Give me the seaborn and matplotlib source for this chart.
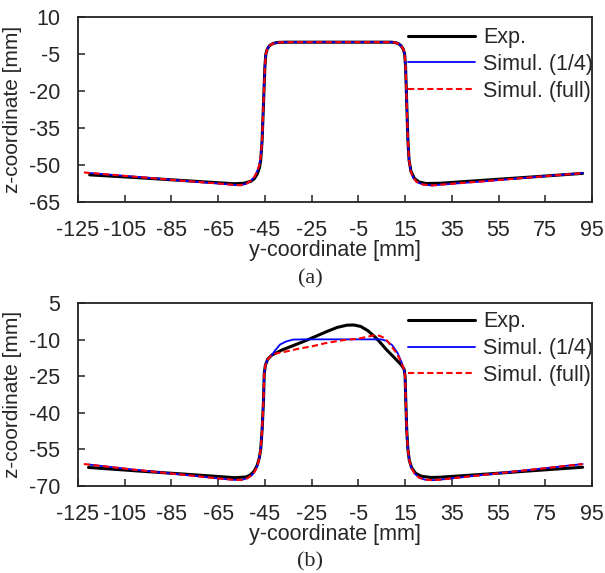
import numpy as np
import pandas as pd
import seaborn as sns
import matplotlib
matplotlib.use('Agg')
import matplotlib.pyplot as plt

# ---- panel (a) ----
exp_a_y = [-120, -100, -80, -65, -58, -54, -51, -49.5, -48.2, -47.3, -46.8, -46.2, -45.6, -45.0, -44.6,
           -44.0, -43.0, -41.5, -39.5, -36, -20, 0, 9, 11, 12.3, 13.3, 14.2, 14.8, 15.2, 15.7, 16.2,
           16.7, 17.5, 19, 21, 24, 30, 50, 70, 91]
exp_a_z = [-54.0, -55.1, -56.3, -57.2, -57.6, -57.4, -56.6, -55.5, -53.5, -51, -48, -40, -25, -10, -5,
           -3, -1.6, -0.7, -0.3, -0.2, -0.2, -0.2, -0.2, -0.4, -0.9, -1.7, -3, -5, -10, -25, -40,
           -48, -52.5, -55.5, -56.9, -57.5, -57.4, -56.1, -54.8, -53.4]

sim_a_y = [-120.5, -100, -80, -65, -58, -55.5, -53, -51, -49.5, -48.3, -47.4, -46.8, -46.2, -45.6, -45.0,
           -44.6, -44.0, -43.0, -41.5, -39.5, -36, -20, 0, 9, 11, 12.3, 13.3, 14.2, 14.8, 15.2, 15.7,
           16.2, 16.7, 17.4, 18.5, 20, 22.5, 26.5, 30, 50, 70, 91]
sim_a_z = [-53.2, -54.8, -56.4, -57.5, -58.1, -58.2, -57.6, -56.4, -54.8, -52.5, -50, -47, -40, -25, -10,
           -5, -3, -1.6, -0.7, -0.3, -0.2, -0.2, -0.2, -0.2, -0.4, -0.9, -1.7, -3, -5, -10, -25,
           -40, -48, -52.5, -55.2, -56.9, -57.9, -58.3, -58.0, -56.5, -54.9, -53.3]
full_a_y = [-122.5] + sim_a_y
full_a_z = [-53.0] + sim_a_z

# ---- panel (b) ----
exp_b_y = [-120.5, -100, -80, -65, -58, -53, -51, -49.5, -48.3, -47.4, -46.8, -46.2, -45.6, -45.3, -44.8,
           -43.8, -42, -40, -37.8, -33, -28, -23.6, -18, -14, -10, -7, -4, -1, 2, 4, 7, 10.5, 13.5,
           14.6, 15, 15.3, 15.7, 16.2, 16.8, 17.8, 19.5, 22, 26, 30, 50, 70, 91]
exp_b_z = [-62.4, -63.8, -65.1, -66.1, -66.6, -66.3, -65.3, -63.8, -61.5, -58.5, -55, -47, -35, -24, -20.5,
           -18, -16.3, -15.4, -14.3, -12.5, -10.6, -8.8, -6.5, -5, -4.1, -4.0, -4.6, -6.3, -8.8, -10.8,
           -14.1, -17.5, -20.5, -22.2, -25, -35, -47, -55, -59.5, -62.5, -64.8, -66, -66.5, -66.4,
           -65.1, -63.7, -62.3]

sim_b_y = [-120.5, -100, -80, -65, -58, -55, -52.5, -50.5, -49.2, -48.2, -47.4, -46.8, -46.2, -45.6, -45.3,
           -44.8, -43.8, -42, -40.7, -38.5, -36, -33, -28, -10, 4.7, 7, 9.5, 11.8, 13.6, 14.6, 15,
           15.3, 15.7, 16.2, 16.8, 17.7, 19, 21, 23.5, 27, 30, 50, 70, 91]
sim_b_z = [-61.2, -63.4, -65.4, -66.9, -67.5, -67.5, -66.8, -65.5, -63.8, -61.5, -58.5, -55, -47, -35, -24,
           -20.5, -18, -16.3, -14.5, -12, -10.8, -10.0, -9.9, -9.9, -9.9, -10.5, -12.3, -15.5, -19.5,
           -22.5, -25, -35, -47, -55, -59.5, -62.5, -64.8, -66.6, -67.4, -67.6, -67.4, -65.3, -63.2, -61.0]

full_b_y = [-122.5, -100, -80, -65, -58, -55, -52.5, -50.5, -49.2, -48.2, -47.4, -46.8, -46.2, -45.6, -45.3,
            -44.8, -43.8, -42, -40, -36.4, -30, -25, -19.3, -12, -5, -1, 1.5, 4, 6.5, 9, 11.5, 13.5,
            14.6, 15, 15.3, 15.7, 16.2, 16.8, 17.7, 19, 21, 23.5, 27, 30, 50, 70, 91]
full_b_z = [-61.0, -63.4, -65.4, -66.9, -67.5, -67.5, -66.8, -65.5, -63.8, -61.5, -58.5, -55, -47, -35, -24,
            -20.5, -18, -16.3, -15.6, -15, -13.6, -12.8, -11.5, -10.3, -9.6, -8.8, -8.3, -8.4, -9.5,
            -12.5, -15.8, -19.5, -22.5, -25, -35, -47, -55, -59.5, -62.5, -64.8, -66.6, -67.4, -67.6,
            -67.4, -65.3, -63.2, -61.0]

labels = ['Exp.', 'Simul. (1/4)', 'Simul. (full)']
xticks = list(range(-125, 96, 20))
yticks_a = [10, -5, -20, -35, -50, -65]
yticks_b = [5, -10, -25, -40, -55, -70]

sns.set_style('ticks')
plt.rcParams['font.family'] = ['Liberation Sans', 'DejaVu Sans']
plt.rcParams['axes.unicode_minus'] = False

fig = plt.figure(figsize=(6.05, 5.73), dpi=100)
ax1 = fig.add_axes([78/605, 1-202/573, 514/605, 185/573])
ax2 = fig.add_axes([78/605, 1-486/573, 514/605, 183/573])


def draw(ax, e, s, f, yt, cap, cap_y, leg_top):
    sns.lineplot(x=e[0], y=e[1], ax=ax, color='black', lw=2.2, sort=False, estimator=None, label=labels[0])
    sns.lineplot(x=s[0], y=s[1], ax=ax, color='#0000ff', lw=1.3, sort=False, estimator=None, label=labels[1])
    sns.lineplot(x=f[0], y=f[1], ax=ax, color='#ff0000', lw=1.5, sort=False, estimator=None, label=labels[2],
                 linestyle=(0, (3, 1.6)))
    ax.set_xlim(-125, 95)
    ax.set_ylim(yt[-1], yt[0])
    ax.set_xticks(xticks)
    ax.set_yticks(yt)
    ax.tick_params(direction='in', length=5, width=1.2, labelsize=15.5, color='#333333')
    ax.tick_params(axis='x', pad=13)
    ax.tick_params(axis='y', pad=13)
    for sp in ax.spines.values():
        sp.set_linewidth(1.3)
        sp.set_color('#222222')
    ax.set_xlabel('y-coordinate [mm]', fontsize=15.5, labelpad=-1)
    ax.set_ylabel('z-coordinate [mm]', fontsize=15, labelpad=2)
    ax.yaxis.set_label_coords(-0.108, 0.5)
    ax.legend(loc='upper left', bbox_to_anchor=(0.642, leg_top), frameon=False, fontsize=15.5,
              handlelength=3.1, handletextpad=0.4, labelspacing=0.27, borderpad=0, borderaxespad=0)
    fig.text(310/605, 1-cap_y/573, cap, ha='center', va='center', fontsize=16,
             family=['Liberation Serif', 'DejaVu Serif'])


draw(ax1, (exp_a_y, exp_a_z), (sim_a_y, sim_a_z), (full_a_y, full_a_z), yticks_a, '(a)', 279, 0.945)
draw(ax2, (exp_b_y, exp_b_z), (sim_b_y, sim_b_z), (full_b_y, full_b_z), yticks_b, '(b)', 562, 0.955)

fig.savefig('out.png', dpi=100)
